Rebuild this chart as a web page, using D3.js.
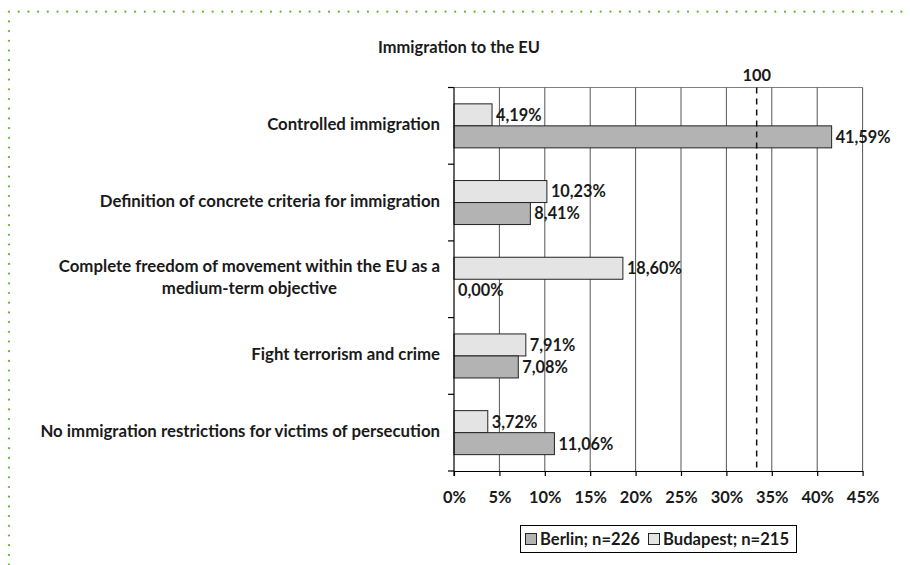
<!DOCTYPE html>
<html>
<head>
<meta charset="utf-8">
<script src="https://cdn.jsdelivr.net/npm/d3@7"></script>
<style>
  html, body { margin: 0; padding: 0; background: #fff; }
  svg { display: block; }
  text { font-family: Lato, "Open Sans", sans-serif; font-weight: bold; fill: #1a1a1a; }
</style>
</head>
<body>
<svg id="chart" width="910" height="565"></svg>
<script>
const title = "Immigration to the EU";
const categories = [
  ["Controlled immigration"],
  ["Definition of concrete criteria for immigration"],
  ["Complete freedom of movement within the EU as a", "medium-term objective"],
  ["Fight terrorism and crime"],
  ["No immigration restrictions for victims of persecution"]
];
const seriesNames = ["Budapest; n=215", "Berlin; n=226"];
const budapest = [4.19, 10.23, 18.60, 7.91, 3.72];
const berlin = [41.59, 8.41, 0.00, 7.08, 11.06];
const xTicks = [0, 5, 10, 15, 20, 25, 30, 35, 40, 45];
const refValue = 100 / 3;
const refLabel = "100";
const legendOrder = ["Berlin; n=226", "Budapest; n=215"];

const colors = { "Budapest; n=215": "#e4e4e4", "Berlin; n=226": "#b3b3b3" };
const seriesData = { "Budapest; n=215": budapest, "Berlin; n=226": berlin };

const svg = d3.select("#chart");
const green = "#5cb82e";

// font size fitting helper: size so that sample text has the target width
function fit(sample, target) {
  const t = svg.append("text").attr("font-size", 100).text(sample);
  const w = t.node().getComputedTextLength();
  t.remove();
  return 100 * target / w;
}
const fsCat = fit(categories[4][0], 400);
const fsTitle = fit(title, 162);
const fsVal = fit("11,06%", 55);
const fsTick = fit("25%", 32.5);
const fsLeg = fit("Berlin; n=226", 100);
const fsRef = fsTick;

// dotted frame
const dotStep = 9.7;
const topDots = d3.range(9, 910, dotStep);
svg.append("g").selectAll("circle").data(topDots).join("circle")
  .attr("cx", d => d).attr("cy", 11.7).attr("r", 1.1).attr("fill", green);
const leftDots = d3.range(11.7 + dotStep, 565, dotStep);
svg.append("g").selectAll("circle").data(leftDots).join("circle")
  .attr("cx", 9).attr("cy", d => d).attr("r", 1.1).attr("fill", green);

const pLeft = 454, pRight = 862.6, pTop = 87.5, pBottom = 471;
const x = d3.scaleLinear().domain([0, 45]).range([pLeft, pRight]);
const y = d3.scaleBand().domain(d3.range(categories.length)).range([pTop, pBottom]).paddingInner(0).paddingOuter(0);
const ys = d3.scaleBand().domain(seriesNames).range([0, y.bandwidth()]).paddingInner(0).paddingOuter(0.743);

// title
svg.append("text").attr("x", 459).attr("y", 47).attr("dy", "0.36em").attr("text-anchor", "middle")
  .attr("font-size", fsTitle).text(title);

// top border
svg.append("line").attr("x1", pLeft).attr("x2", pRight).attr("y1", pTop).attr("y2", pTop)
  .attr("stroke", "#808080").attr("stroke-width", 1);

// gridlines
svg.append("g").selectAll("line").data(xTicks.slice(1)).join("line")
  .attr("x1", d => x(d)).attr("x2", d => x(d)).attr("y1", pTop).attr("y2", pBottom)
  .attr("stroke", "#555").attr("stroke-width", 1);

// bars
const groups = svg.append("g").selectAll("g").data(categories).join("g")
  .attr("transform", (d, i) => `translate(0,${y(i)})`);
seriesNames.forEach(s => {
  groups.append("rect")
    .attr("x", x(0))
    .attr("y", ys(s))
    .attr("width", (d, i) => x(seriesData[s][i]) - x(0))
    .attr("height", ys.bandwidth())
    .attr("fill", colors[s])
    .attr("stroke", (d, i) => seriesData[s][i] > 0 ? "#222" : "none")
    .attr("stroke-width", 1);
  groups.append("text")
    .attr("x", (d, i) => x(seriesData[s][i]) + 4)
    .attr("y", ys(s) + ys.bandwidth() / 2)
    .attr("dy", "0.36em")
    .attr("font-size", fsVal)
    .text((d, i) => seriesData[s][i].toFixed(2).replace(".", ",") + "%");
});

// reference dashed line
svg.append("line").attr("x1", x(refValue)).attr("x2", x(refValue)).attr("y1", pTop).attr("y2", pBottom)
  .attr("stroke", "#111").attr("stroke-width", 1.5).attr("stroke-dasharray", "6,5");
svg.append("text").attr("x", x(refValue)).attr("y", 75).attr("dy", "0.36em").attr("text-anchor", "middle")
  .attr("font-size", fsRef).text(refLabel);

// axes
const yAxisTicks = d3.range(categories.length + 1).map(i => pTop + i * y.step());
svg.append("line").attr("x1", pLeft).attr("x2", pLeft).attr("y1", pTop).attr("y2", pBottom + 5)
  .attr("stroke", "#000").attr("stroke-width", 1.2);
svg.append("g").selectAll("line").data(yAxisTicks).join("line")
  .attr("x1", pLeft - 6).attr("x2", pLeft).attr("y1", d => d).attr("y2", d => d)
  .attr("stroke", "#000").attr("stroke-width", 1.2);

const xAxis = svg.append("g").attr("transform", `translate(0,${pBottom})`)
  .call(d3.axisBottom(x).tickValues(xTicks).tickFormat(d => d + "%").tickSize(5).tickSizeOuter(0));
xAxis.select(".domain").attr("stroke", "#000").attr("stroke-width", 1.2);
xAxis.selectAll(".tick line").attr("stroke", "#000").attr("stroke-width", 1.2);
xAxis.selectAll(".tick text").attr("font-size", fsTick).attr("font-family", null).attr("fill", "#1a1a1a")
  .attr("y", 26).attr("dy", "0.36em");

// category labels
categories.forEach((lines, i) => {
  const cy = y(i) + y.bandwidth() / 2 - 2;
  const lh = 22;
  const t = svg.append("text").attr("font-size", fsCat).attr("text-anchor", "end");
  lines.forEach((ln, j) => {
    t.append("tspan").attr("x", 440).attr("y", cy + (j - (lines.length - 1) / 2) * lh).attr("dy", "0.36em").text(ln);
  });
  if (lines.length > 1) {
    const w = t.select("tspan").node().getComputedTextLength();
    t.attr("text-anchor", "middle");
    t.selectAll("tspan").attr("x", 440 - w / 2);
  }
});

// legend
const lg = svg.append("g");
lg.append("rect").attr("x", 520.5).attr("y", 525.5).attr("width", 276).attr("height", 27)
  .attr("fill", "#fff").attr("stroke", "#000").attr("stroke-width", 1);
const legendX = [525, 648];
legendOrder.forEach((s, i) => {
  lg.append("rect").attr("x", legendX[i] + 0.5).attr("y", 533.5).attr("width", 11).attr("height", 11)
    .attr("fill", colors[s]).attr("stroke", "#222").attr("stroke-width", 1);
  lg.append("text").attr("x", legendX[i] + 15).attr("y", 539).attr("dy", "0.36em")
    .attr("font-size", fsLeg).text(s);
});
</script>
</body>
</html>
